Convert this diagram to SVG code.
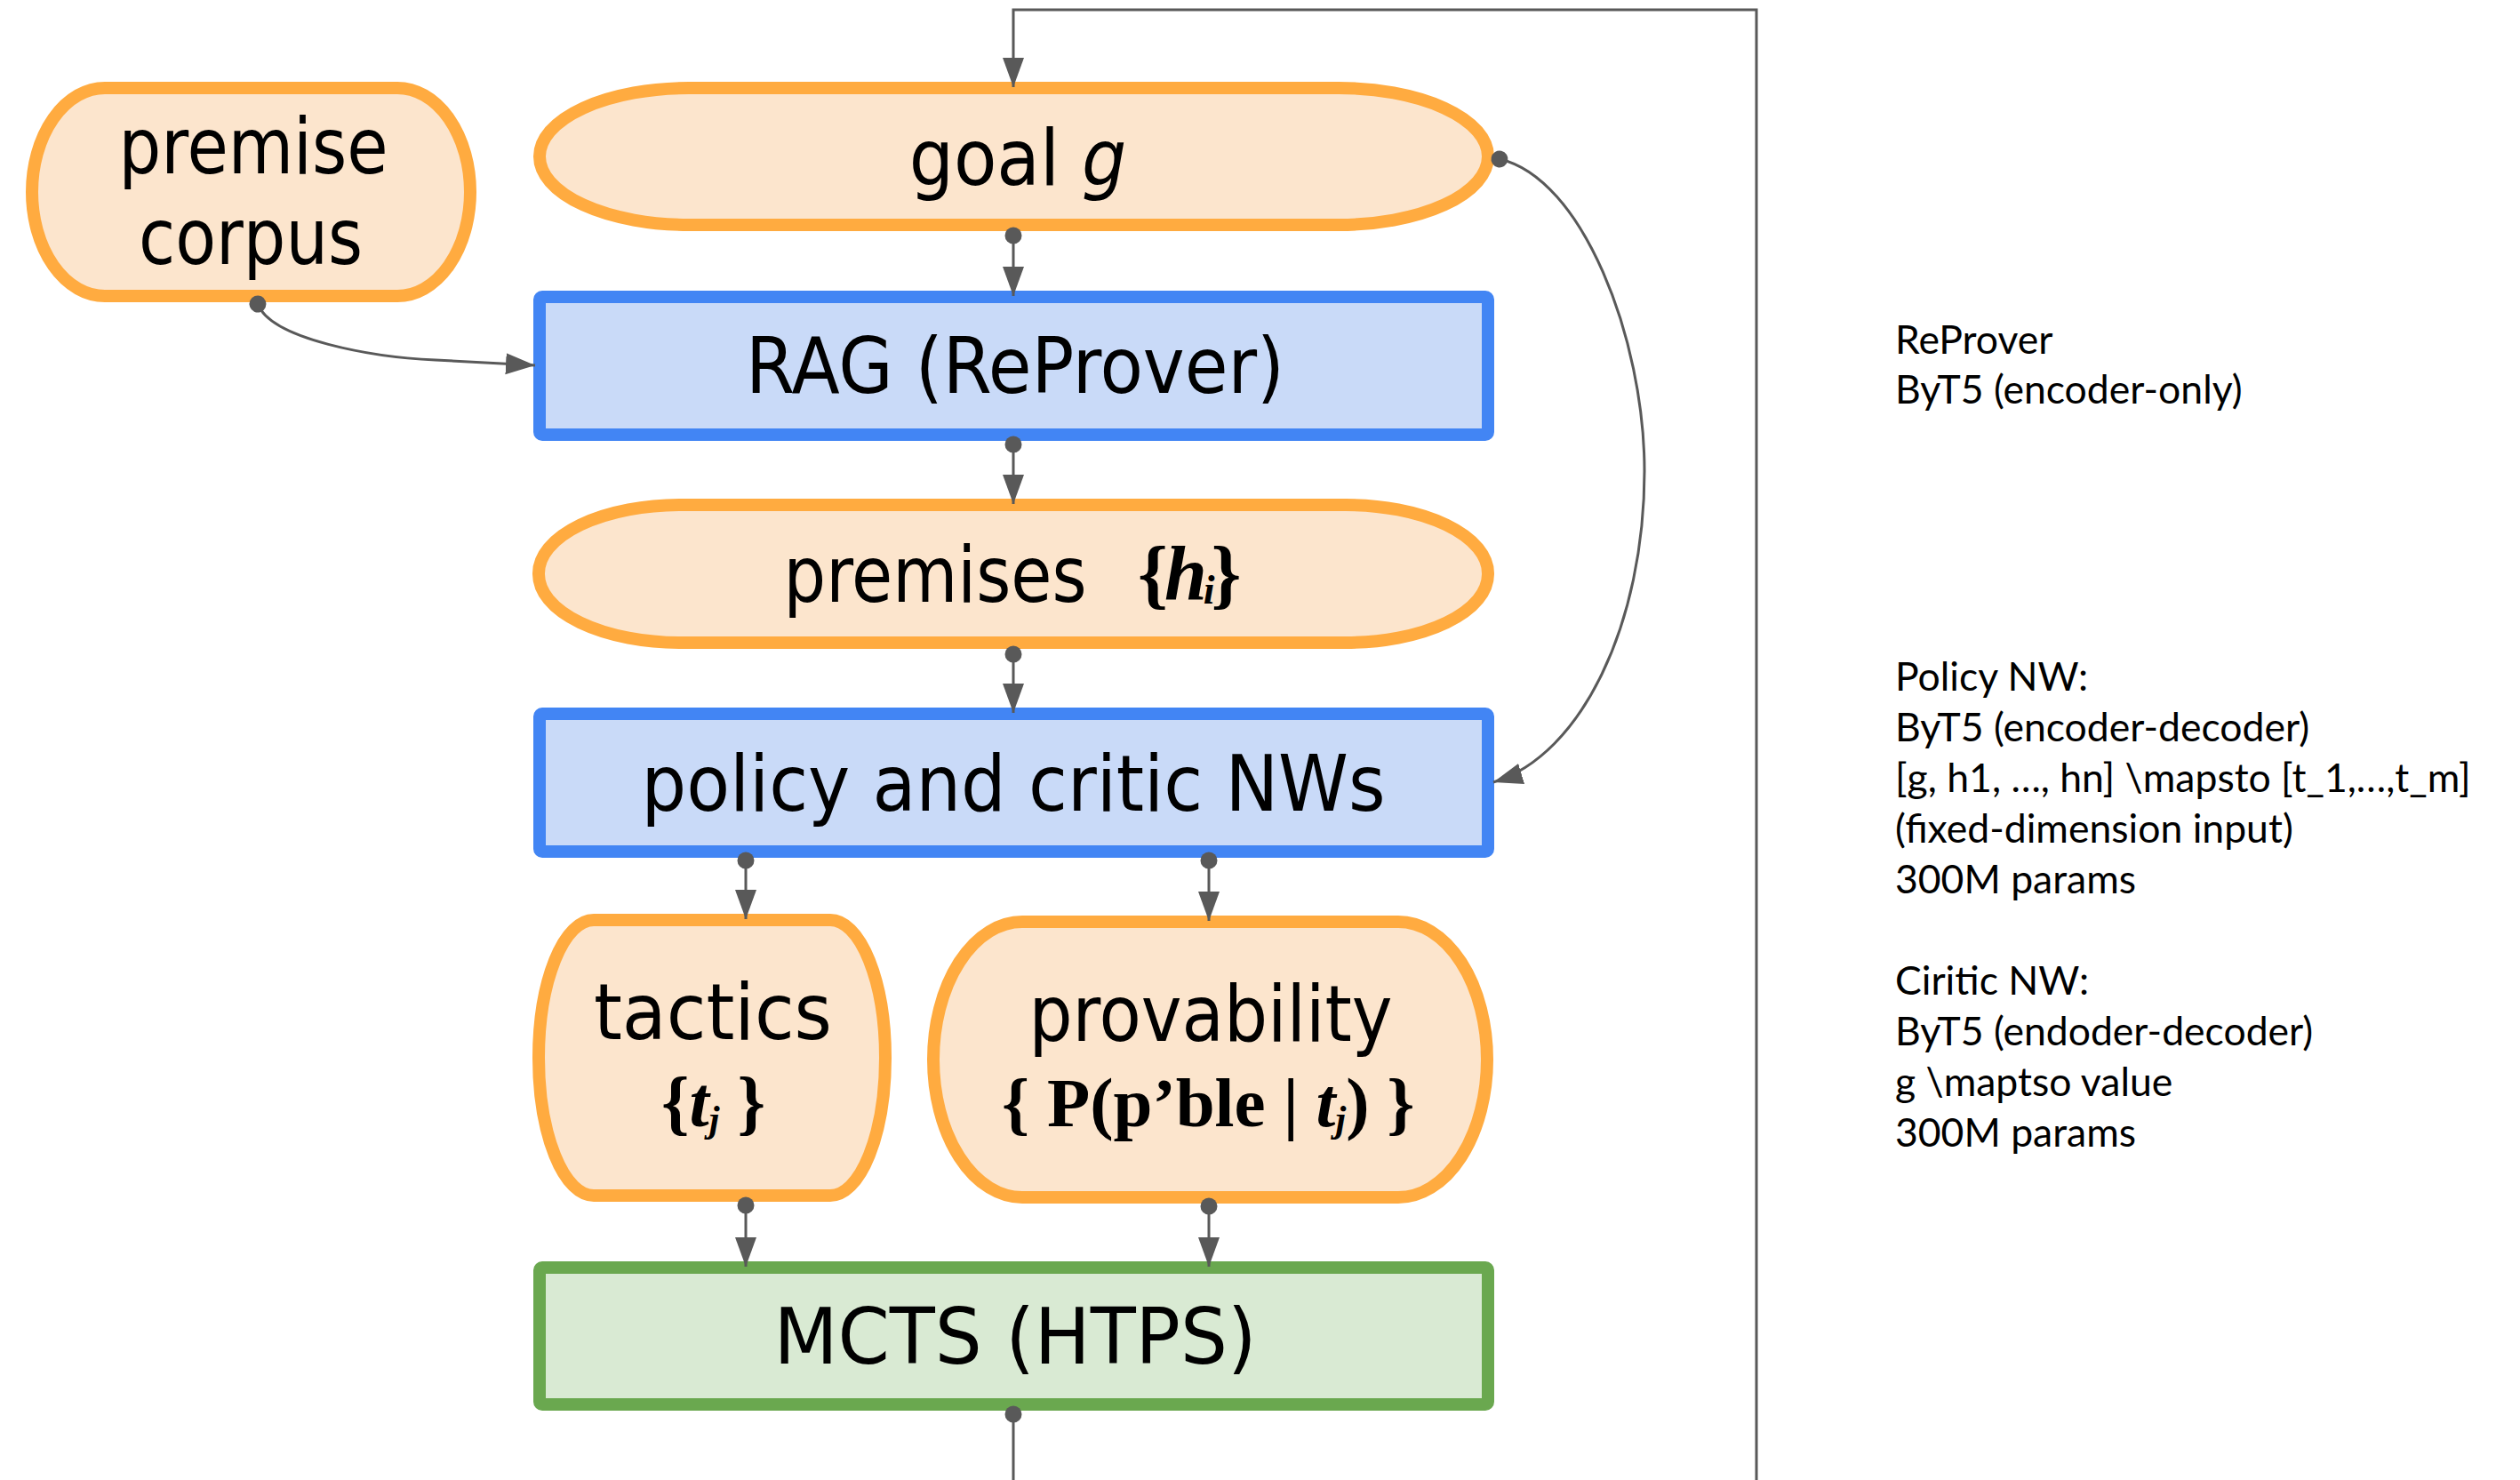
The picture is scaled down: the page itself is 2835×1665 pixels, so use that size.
<svg xmlns="http://www.w3.org/2000/svg" width="2835" height="1665" viewBox="0 0 2835 1665">
<style>
.orange{fill:#FCE5CD;stroke:#FFAB40;stroke-width:14}
.blue{fill:#C9DAF8;stroke:#4285F4;stroke-width:14}
.green{fill:#D9EAD3;stroke:#6AA84F;stroke-width:14}
.lbl{font-family:"DejaVu Sans Condensed","DejaVu Sans",sans-serif;font-stretch:condensed;font-size:88px;fill:#000;text-anchor:middle}
.ser{font-family:"Liberation Serif","DejaVu Serif",serif;font-weight:bold;fill:#000}
.note{font-family:Lato,"Liberation Sans",sans-serif;font-size:44.5px;fill:#000}
.conn{fill:none;stroke:#595959;stroke-width:3}
</style>
<defs>
<marker id="arr" markerUnits="userSpaceOnUse" markerWidth="36" markerHeight="26" refX="33" refY="12" orient="auto">
<path d="M0,0 L33,12 L0,24 Z" fill="#595959"/>
</marker>
<marker id="dot" markerUnits="userSpaceOnUse" markerWidth="22" markerHeight="22" refX="11" refY="11" orient="auto">
<circle cx="11" cy="11" r="9.5" fill="#595959"/>
</marker>
</defs>
<rect width="2835" height="1665" fill="#fff"/>

<g id="premise-corpus">
<rect class="orange" x="36" y="99" width="493" height="234" rx="82" ry="117"/>
<text class="lbl" x="285" y="195" textLength="303" lengthAdjust="spacingAndGlyphs">premise</text>
<text class="lbl" x="282" y="297" textLength="252" lengthAdjust="spacingAndGlyphs">corpus</text>
</g>

<g id="goal">
<rect class="orange" x="607" y="99" width="1067" height="154" rx="168" ry="77"/>
<text class="lbl" x="1145" y="208">goal <tspan font-style="italic">g</tspan></text>
</g>

<g id="rag">
<rect class="blue" x="607" y="334" width="1067" height="155" rx="3"/>
<text class="lbl" x="1142" y="442" textLength="606" lengthAdjust="spacingAndGlyphs">RAG (ReProver)</text>
</g>

<g id="premises">
<rect class="orange" x="606" y="568" width="1068" height="155" rx="160" ry="77"/>
<text class="lbl" x="1052" y="677" textLength="341" lengthAdjust="spacingAndGlyphs">premises</text>
<text class="ser" x="1280" y="674" font-size="86" letter-spacing="-4">{<tspan font-style="italic">h</tspan><tspan font-style="italic" font-size="46" dy="5">i</tspan><tspan dy="-5">}</tspan></text>
</g>

<g id="policy-critic">
<rect class="blue" x="607" y="803" width="1067" height="155" rx="3"/>
<text class="lbl" x="1140" y="912" textLength="837" lengthAdjust="spacingAndGlyphs">policy and critic NWs</text>
</g>

<g id="tactics">
<rect class="orange" x="606" y="1035" width="390" height="310" rx="62" ry="155"/>
<text class="lbl" x="802" y="1169" textLength="268" lengthAdjust="spacingAndGlyphs">tactics</text>
<text class="ser" x="744" y="1267" font-size="80">{<tspan font-style="italic">t</tspan><tspan font-style="italic" font-size="42" dy="6">j</tspan><tspan dy="-6"> }</tspan></text>
</g>

<g id="provability">
<rect class="orange" x="1050" y="1037" width="623" height="310" rx="100" ry="155"/>
<text class="lbl" x="1362" y="1171" textLength="409" lengthAdjust="spacingAndGlyphs">provability</text>
<text class="ser" x="1127" y="1267" font-size="79">{ P(p’ble | <tspan font-style="italic">t</tspan><tspan font-style="italic" font-size="42" dy="6">j</tspan><tspan dy="-6">) }</tspan></text>
</g>

<g id="mcts">
<rect class="green" x="607" y="1426" width="1067" height="154" rx="3"/>
<text class="lbl" x="1142" y="1534" textLength="543" lengthAdjust="spacingAndGlyphs">MCTS (HTPS)</text>
</g>

<g id="notes">
<text class="note" x="2132" y="398">ReProver</text>
<text class="note" x="2132" y="454">ByT5 (encoder-only)</text>
<text class="note" x="2132" y="777">Policy NW:</text>
<text class="note" x="2132" y="834">ByT5 (encoder-decoder)</text>
<text class="note" x="2132" y="891">[g, h1, …, hn] \mapsto [t_1,…,t_m]</text>
<text class="note" x="2132" y="948">(fixed-dimension input)</text>
<text class="note" x="2132" y="1005">300M params</text>
<text class="note" x="2132" y="1119">Ciritic NW:</text>
<text class="note" x="2132" y="1176">ByT5 (endoder-decoder)</text>
<text class="note" x="2132" y="1233">g \maptso value</text>
<text class="note" x="2132" y="1290">300M params</text>
</g>

<g id="connectors">
<path class="conn" d="M1976,1665 L1976,11 L1140,11 L1140,98" marker-end="url(#arr)"/>
<path class="conn" d="M1140,265 L1140,333" marker-start="url(#dot)" marker-end="url(#arr)"/>
<path class="conn" d="M290,342 C305,382 420,402 490,405 L602,411" marker-start="url(#dot)" marker-end="url(#arr)"/>
<path class="conn" d="M1140,500 L1140,567" marker-start="url(#dot)" marker-end="url(#arr)"/>
<path class="conn" d="M1140,736 L1140,802" marker-start="url(#dot)" marker-end="url(#arr)"/>
<path class="conn" d="M1687,179 C1780,200 1850,380 1850,530 C1850,700 1780,850 1680,880" marker-start="url(#dot)" marker-end="url(#arr)"/>
<path class="conn" d="M839,968 L839,1034" marker-start="url(#dot)" marker-end="url(#arr)"/>
<path class="conn" d="M1360,968 L1360,1036" marker-start="url(#dot)" marker-end="url(#arr)"/>
<path class="conn" d="M839,1356 L839,1425" marker-start="url(#dot)" marker-end="url(#arr)"/>
<path class="conn" d="M1360,1357 L1360,1425" marker-start="url(#dot)" marker-end="url(#arr)"/>
<path class="conn" d="M1140,1591 L1140,1665" marker-start="url(#dot)"/>
</g>
</svg>
